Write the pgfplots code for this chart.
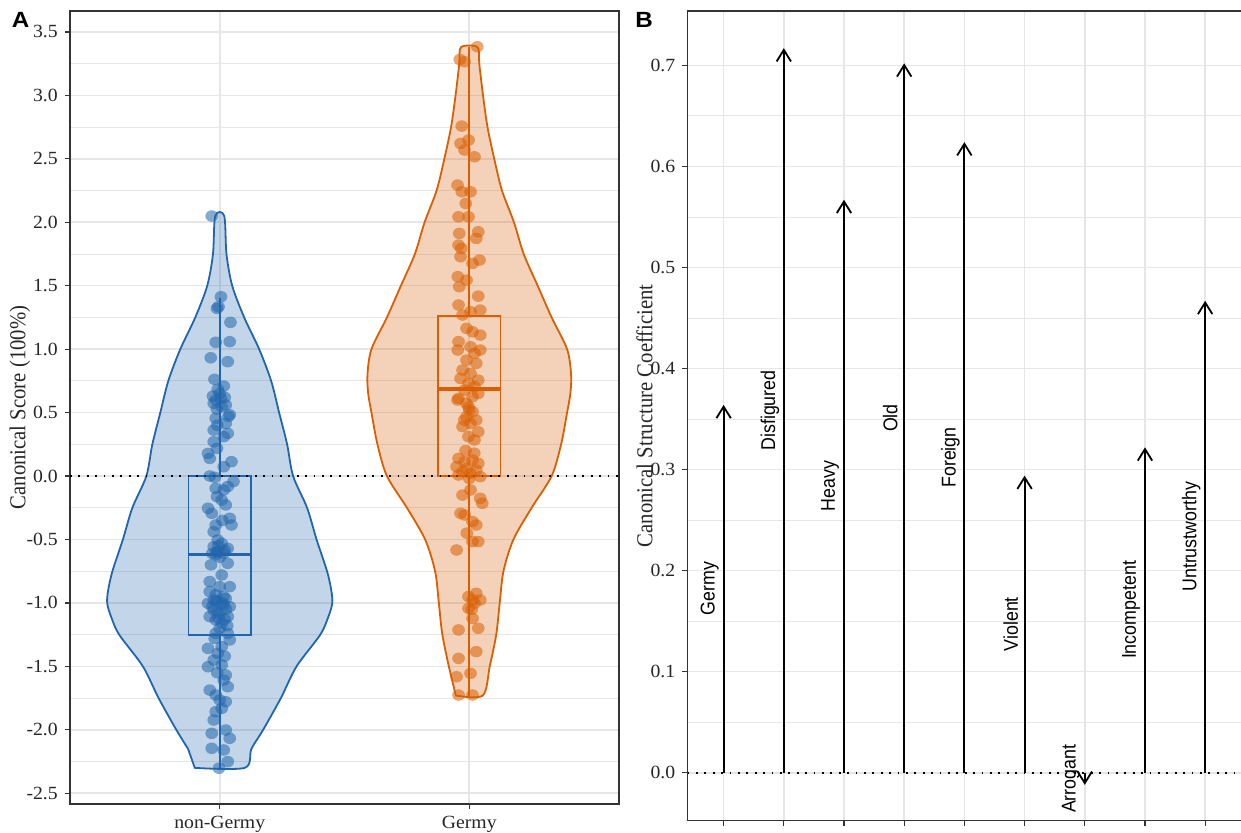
\documentclass[border=0pt]{standalone}
\usepackage{fontspec}
\setmainfont{Liberation Serif}
\newfontfamily\hserif{Liberation Serif}[FakeStretch=1.06]
\newfontfamily\hsans{Liberation Sans}[FakeStretch=1.1]
\newfontfamily\rsans{Liberation Sans}
\usepackage{pgfplots}
\usepackage{pgfplotstable}
\pgfplotsset{compat=1.18}
\usetikzlibrary{arrows.meta}

\definecolor{bluC}{HTML}{2166AC}
\definecolor{orgC}{HTML}{D95F02}
\definecolor{gridC}{HTML}{E6E6E6}
\definecolor{frameC}{HTML}{333333}

\pgfplotstableread{
x y
0.968 2.049
1.005 1.413
0.989 1.321
0.995 1.334
1.043 1.211
0.984 1.054
1.040 1.059
0.964 0.932
1.032 0.901
0.979 0.762
1.016 0.709
0.992 0.683
0.973 0.630
1.005 0.612
0.984 0.599
1.024 0.560
0.989 0.527
1.040 0.483
0.976 0.573
1.008 0.546
1.035 0.470
0.984 0.455
1.024 0.415
0.976 0.362
1.032 0.336
1.016 0.310
0.976 0.270
0.989 0.218
0.953 0.178
0.960 0.139
1.047 0.113
1.016 0.073
0.960 0.000
1.055 -0.044
1.032 -0.083
0.984 -0.097
1.016 -0.110
0.989 -0.162
1.008 -0.189
1.024 -0.228
0.953 -0.254
0.968 -0.294
1.040 -0.333
1.047 -0.386
0.984 -0.386
0.976 -0.439
0.992 -0.504
1.008 -0.531
0.976 -0.557
1.032 -0.570
0.989 -0.596
0.984 -0.622
1.016 -0.609
1.032 -0.688
1.008 -0.780
0.960 -0.832
1.000 -0.872
1.040 -0.872
0.960 -0.911
0.984 -0.937
1.024 -0.964
0.976 -0.977
0.953 -1.003
0.992 -0.990
1.016 -1.016
1.040 -1.029
0.976 -1.056
1.000 -1.082
0.960 -1.108
0.984 -1.134
1.032 -1.108
1.008 -1.161
0.984 -1.240
1.032 -1.240
1.040 -1.292
1.008 -1.345
0.953 -1.358
0.992 -1.398
0.976 -1.450
1.008 -1.489
0.953 -1.503
1.024 -1.568
1.016 -1.608
1.032 -1.661
0.960 -1.687
0.984 -1.726
1.000 -1.765
1.024 -1.779
1.008 -1.831
0.984 -1.857
0.976 -1.923
1.024 -2.002
0.968 -2.028
1.040 -2.067
0.968 -2.146
1.016 -2.159
1.032 -2.251
0.997 -2.303
0.995 -0.550
1.020 -0.585
0.970 -0.610
1.000 -0.640
0.985 -0.980
1.010 -1.000
1.025 -1.050
0.970 -1.030
0.995 -1.120
1.020 -1.130
0.990 -1.070
1.000 -1.200
0.980 -1.280
1.020 -1.420
0.990 -1.550
1.000 0.650
1.020 0.620
0.990 0.400
1.010 -0.350
0.980 -0.010
1.015 -0.950
0.990 -0.600
1.030 -1.180
0.965 -0.700
}\bluepts

\pgfplotstableread{
x y
2.032 3.383
1.962 3.283
1.981 3.265
1.970 2.758
1.965 2.621
1.997 2.648
1.981 2.569
2.021 2.516
1.953 2.293
1.970 2.240
2.005 2.240
1.986 2.148
1.957 2.043
1.997 2.043
2.036 1.925
2.028 1.873
1.960 1.912
1.957 1.820
1.968 1.794
1.965 1.728
2.041 1.702
2.013 1.676
1.954 1.571
1.989 1.544
1.960 1.492
2.036 1.418
1.957 1.348
2.044 1.308
2.005 1.295
1.973 1.269
1.989 1.164
2.013 1.137
2.044 1.111
1.957 1.059
2.005 1.019
2.044 0.993
1.954 0.993
2.021 0.967
1.989 0.914
2.028 0.888
1.973 0.835
2.005 0.809
1.965 0.769
2.036 0.756
1.997 0.730
2.021 0.704
1.981 0.677
2.036 0.651
2.013 0.625
1.957 0.612
1.953 0.599
1.989 0.572
1.997 0.546
2.013 0.507
1.989 0.467
2.028 0.441
2.005 0.415
1.973 0.389
2.036 0.349
1.997 0.310
2.021 0.284
1.957 0.139
1.981 0.113
1.949 0.073
2.013 0.126
2.036 0.100
1.973 0.034
2.005 0.021
2.028 0.047
1.957 0.008
2.044 -0.005
1.973 -0.150
2.005 -0.110
2.044 -0.176
2.052 -0.215
1.965 -0.294
1.981 -0.307
2.013 -0.359
2.028 -0.386
2.036 -0.517
2.013 -0.517
1.949 -0.583
1.997 -0.950
2.028 -0.924
2.013 -0.977
2.044 -0.977
1.997 -1.043
2.021 -1.003
2.013 -1.122
1.957 -1.213
2.036 -1.200
2.028 -1.384
1.957 -1.437
2.005 -1.555
1.949 -1.582
1.957 -1.726
2.013 -1.726
2.000 0.520
1.980 0.440
2.020 0.180
1.990 0.060
2.000 -0.020
1.985 0.200
2.010 -1.050
1.990 -0.450
}\orangepts

\pgfplotstableread{
x y0 v
1 0 0.364
2 0 0.717
3 0 0.567
4 0 0.702
5 0 0.624
6 0 0.294
7 0 -0.012
8 0 0.322
9 0 0.467
}\arrows

\pgfplotstableread{
x y lab
0.77 0.182 Germy
1.77 0.3585 Disfigured
2.77 0.2835 Heavy
3.77 0.351 Old
4.77 0.312 Foreign
5.77 0.147 Violent
6.77 -0.006 Arrogant
7.77 0.161 Incompetent
8.77 0.2335 Untrustworthy
}\labels

\pgfplotsset{
  ggbw/.style={
    scale only axis,
    enlargelimits=false,
    axis line style={frameC, line width=0.6pt},
    tick align=outside, tick pos=left,
    major tick length=2.6pt, minor tick length=0pt,
    every tick/.style={frameC, line width=0.6pt},
    grid=both,
    major grid style={gridC, line width=0.8pt},
    minor grid style={gridC, line width=0.4pt},
    ticklabel style={font=\hserif\fontsize{9.3}{11}\selectfont, text=black!85},
  }
}

\begin{document}
\begin{tikzpicture}
\path[use as bounding box] (0,0) rectangle (620.5pt,416pt);

% ---------------- Panel A ----------------
\begin{axis}[ggbw,
  at={(35pt,14pt)}, anchor=south west,
  width=274.5pt, height=396.5pt,
  xmin=0.4, xmax=2.6, ymin=-2.585, ymax=3.665,
  xtick={1,2}, xticklabels={non-Germy,Germy},
  ytick={-2.5,-2,-1.5,-1,-0.5,0,0.5,1,1.5,2,2.5,3,3.5},
  yticklabels={-2.5,-2.0,-1.5,-1.0,-0.5,0.0,0.5,1.0,1.5,2.0,2.5,3.0,3.5},
  minor y tick num=1,
  ylabel={Canonical Score (100\%)},
  every axis y label/.style={at={(rel axis cs:0,0.5)}, xshift=-25pt, anchor=center, rotate=90, yscale=1.1, font=\fontsize{10.35}{12}\selectfont, text=black!85},
]
% violins
\addplot[draw=bluC, line width=0.9pt, fill=bluC, fill opacity=0.27, smooth, tension=0.5] coordinates {
(0.900,-2.30) (1.100,-2.30) (1.127,-2.15) (1.174,-2.0) (1.245,-1.75) (1.308,-1.5) (1.403,-1.25) (1.437,-1.1) (1.451,-1.0) (1.447,-0.9) (1.430,-0.75) (1.388,-0.5) (1.350,-0.25) (1.294,0.0) (1.270,0.25) (1.238,0.5) (1.206,0.75) (1.158,1.0) (1.098,1.25) (1.050,1.5) (1.027,1.75) (1.018,2.05)
(0.982,2.05) (0.973,1.75) (0.950,1.5) (0.902,1.25) (0.842,1.0) (0.794,0.75) (0.762,0.5) (0.730,0.25) (0.706,0.0) (0.650,-0.25) (0.612,-0.5) (0.570,-0.75) (0.553,-0.9) (0.549,-1.0) (0.563,-1.1) (0.597,-1.25) (0.692,-1.5) (0.755,-1.75) (0.826,-2.0) (0.873,-2.15)
} -- cycle;
\addplot[draw=orgC, line width=0.9pt, fill=orgC, fill opacity=0.28, smooth, tension=0.5] coordinates {
(1.946,-1.73) (2.054,-1.73) (2.082,-1.5) (2.108,-1.25) (2.122,-1.0) (2.137,-0.75) (2.177,-0.5) (2.250,-0.25) (2.330,0.0) (2.368,0.25) (2.392,0.5) (2.405,0.65) (2.408,0.8) (2.392,1.0) (2.330,1.25) (2.274,1.5) (2.218,1.75) (2.179,2.0) (2.131,2.25) (2.100,2.5) (2.073,2.75) (2.055,3.0) (2.040,3.25) (2.033,3.38)
(1.967,3.38) (1.960,3.25) (1.945,3.0) (1.927,2.75) (1.900,2.5) (1.869,2.25) (1.821,2.0) (1.782,1.75) (1.726,1.5) (1.670,1.25) (1.608,1.0) (1.592,0.8) (1.595,0.65) (1.608,0.5) (1.632,0.25) (1.670,0.0) (1.750,-0.25) (1.823,-0.5) (1.863,-0.75) (1.878,-1.0) (1.892,-1.25) (1.918,-1.5)
} -- cycle;
% boxes
\addplot[draw=bluC, line width=0.9pt] coordinates {(0.875,-1.253) (1.125,-1.253) (1.125,0) (0.875,0)} -- cycle;
\addplot[draw=bluC, line width=0.9pt] coordinates {(1,0) (1,1.40)};
\addplot[draw=bluC, line width=0.9pt] coordinates {(1,-1.253) (1,-2.303)};
\addplot[draw=bluC, line width=1.7pt] coordinates {(0.875,-0.617) (1.125,-0.617)};
\addplot[draw=orgC, line width=0.9pt] coordinates {(1.875,0) (2.125,0) (2.125,1.26) (1.875,1.26)} -- cycle;
\addplot[draw=orgC, line width=0.9pt] coordinates {(2,1.26) (2,3.38)};
\addplot[draw=orgC, line width=0.9pt] coordinates {(2,0) (2,-1.73)};
\addplot[draw=orgC, line width=1.7pt] coordinates {(1.875,0.686) (2.125,0.686)};
% zero line
\addplot[black, line width=0.9pt, dash pattern=on 0.9pt off 3.3pt] coordinates {(0.4,0) (2.6,0)};
% points
\addplot[only marks, mark=*, mark size=2.9pt, mark options={xscale=1.1, fill=bluC, draw=bluC, fill opacity=0.55, draw opacity=0}] table[x=x,y=y] {\bluepts};
\addplot[only marks, mark=*, mark size=2.9pt, mark options={xscale=1.1, fill=orgC, draw=orgC, fill opacity=0.55, draw opacity=0}] table[x=x,y=y] {\orangepts};
\end{axis}

% ---------------- Panel B ----------------
\begin{axis}[ggbw,
  at={(343.75pt,5.65pt)}, anchor=south west,
  width=276.9pt, height=404.85pt,
  xmin=0.4, xmax=9.6, ymin=-0.0475, ymax=0.7538,
  xtick={1,2,3,4,5,6,7,8,9}, xticklabels={},
  ytick={0,0.1,0.2,0.3,0.4,0.5,0.6,0.7},
  yticklabels={0.0,0.1,0.2,0.3,0.4,0.5,0.6,0.7},
  minor y tick num=1,
  ylabel={Canonical Structure Coefficient},
  every axis y label/.style={at={(rel axis cs:0,0.5)}, xshift=-21.5pt, anchor=center, rotate=90, yscale=1.1, font=\fontsize{10.35}{12}\selectfont, text=black!85},
]
\addplot[black, line width=0.9pt, dash pattern=on 0.9pt off 3.3pt] coordinates {(0.4,0) (9.6,0)};
\addplot[black, line width=1pt, -{Straight Barb[length=5.8pt,width=7.2pt,line width=0.9pt]},
  quiver={u=0, v=\thisrow{v}}] table[x=x, y=y0] {\arrows};
\addplot[draw=none, mark=none, nodes near coords, point meta=explicit symbolic,
  nodes near coords align={center},
  every node near coord/.append style={font=\rsans\fontsize{8.9}{10}\selectfont, rotate=90, yscale=1.12, text=black}]
  table[x=x, y=y, meta=lab] {\labels};
\end{axis}

\node[font=\hsans\bfseries\fontsize{11}{12}\selectfont] at (10.25pt,406pt) {A};
\node[font=\hsans\bfseries\fontsize{11}{12}\selectfont] at (322pt,406pt) {B};
\end{tikzpicture}
\end{document}
